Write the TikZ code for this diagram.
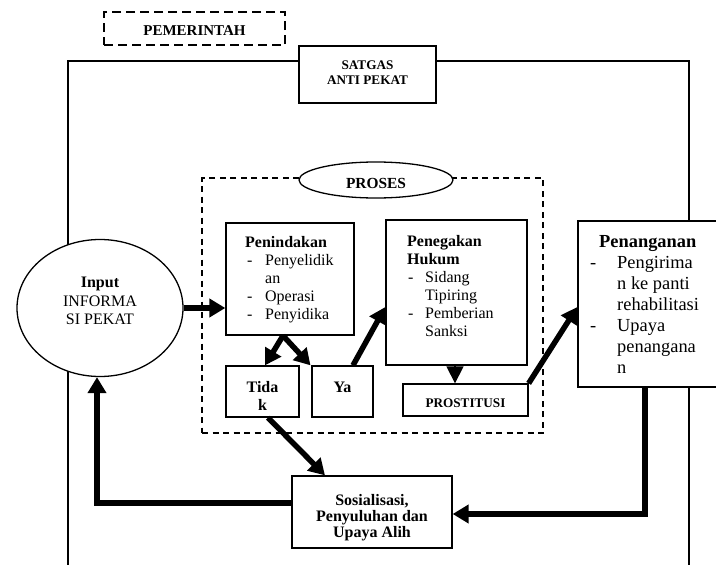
\documentclass[tikz,border=0pt]{standalone}
\usepackage{fontspec}
\setmainfont{Liberation Serif}
\usetikzlibrary{shapes.geometric,arrows.meta,calc,backgrounds}
\newcommand{\dsh}[2]{\makebox[#1][l]{\hspace*{#2}-}}
\begin{document}
\begin{tikzpicture}[x=1pt,y=-1pt,
  box/.style={draw,line width=1.3pt,fill=white,inner sep=0pt,align=center},
  dbox/.style={draw,line width=1.8pt,dash pattern=on 9pt off 5pt,fill=white,inner sep=0pt},
  pframe/.style={draw,line width=1.4pt,dash pattern=on 6pt off 4.5pt,fill=white,inner sep=0pt},
  ell/.style={draw,ellipse,line width=1.3pt,fill=white,inner sep=0pt},
  frame/.style={line width=1.3pt},
  big/.style={line width=5.5pt,-{Triangle[length=16pt,width=18pt]}},
  small/.style={line width=1.3pt,-{Triangle[length=17pt,width=17pt]}},
  txt/.style={inner sep=0pt,font=\fontsize{16}{18}\selectfont,align=left},
  btxt/.style={inner sep=0pt,font=\bfseries\fontsize{16}{18}\selectfont,align=center},
  stxt/.style={inner sep=0pt,font=\bfseries\fontsize{13.2}{15}\selectfont,align=center}
]
\useasboundingbox (0,0) rectangle (716,565);

% outer frame corners
\coordinate (ftl) at (68,61);
\coordinate (ftr) at (689,61);
\coordinate (fbl) at (68,575);
\coordinate (fbr) at (689,575);

% boxes
\node[dbox,minimum width=181pt,minimum height=33pt] (pem) at (194.5,28.5) {};
\node[stxt,font=\bfseries\fontsize{15}{17}\selectfont] (pemt) at (194.5,31) {PEMERINTAH};

\node[box,minimum width=137pt,minimum height=57pt] (satgas) at (367.5,74.5) {};
\node[stxt] (satgast) at (367.5,72.5) {SATGAS\\ANTI PEKAT};

\node[pframe,minimum width=341pt,minimum height=255pt] (pframe) at (372.5,305.5) {};
\node[ell,minimum width=154pt,minimum height=36pt] (proses) at (376,180) {};
\node[btxt,font=\bfseries\fontsize{15.4}{17}\selectfont] (prosest) at (376,183) {PROSES};

\node[ell,minimum width=166pt,minimum height=137pt] (input) at (100,308) {};
\node[inner sep=0pt,font=\fontsize{16}{18.5}\selectfont,align=center] (inputt) at (100,301) {\textbf{Input}\\INFORMA\\SI PEKAT};

\node[box,minimum width=128pt,minimum height=112pt] (pen) at (290,279) {};
\node[txt,anchor=north west] (pent) at (245,236) {\textbf{Penindakan}\\
\dsh{20pt}{2pt}Penyelidik\\ \hspace*{20pt}an\\ \dsh{20pt}{2pt}Operasi\\ \dsh{20pt}{2pt}Penyidika};

\node[box,minimum width=141pt,minimum height=145pt] (hukum) at (456.5,292.5) {};
\node[txt,anchor=north west] (hukumt) at (407,235) {\textbf{Penegakan}\\ \textbf{Hukum}\\
\dsh{18pt}{1pt}Sidang\\ \hspace*{18pt}Tipiring\\ \dsh{18pt}{1pt}Pemberian\\ \hspace*{18pt}Sanksi};

\node[box,minimum width=73pt,minimum height=51pt] (tidak) at (262.5,391.5) {};
\node[btxt] (tidakt) at (262.5,396) {Tida\\k};

\node[box,minimum width=61pt,minimum height=51pt] (ya) at (342.5,391.5) {};
\node[btxt] (yat) at (342.5,387) {Ya};

\node[box,minimum width=125pt,minimum height=32pt] (prost) at (465.5,400) {};
\node[stxt] (prostt) at (465.5,403) {PROSTITUSI};

\node[box,minimum width=142pt,minimum height=166pt] (penang) at (649,304) {};
\node[inner sep=0pt,font=\fontsize{18.4}{21}\selectfont,align=left,anchor=north west] (penangt) at (590,235) {\hspace*{9pt}\textbf{Penanganan}\\
\dsh{27pt}{0pt}Pengirima\\ \hspace*{27pt}n ke panti\\ \hspace*{27pt}rehabilitasi\\ \dsh{27pt}{0pt}Upaya\\ \hspace*{27pt}penangana\\ \hspace*{27pt}n};

\node[box,minimum width=160pt,minimum height=72pt] (sos) at (372,512) {};
\node[btxt,font=\bfseries\fontsize{16}{16}\selectfont] (sost) at (372,518) {Sosialisasi,\\Penyuluhan dan\\Upaya Alih};

% outer frame behind everything
\begin{scope}[on background layer]
\draw[frame] (satgas.west |- ftl) -- (ftl) -- (fbl);
\draw[frame] (satgas.east |- ftr) -- (ftr) -- (fbr);
\end{scope}

% connectors
\draw[big] (input.east) -- (input.east -| pen.west);
\coordinate (pfork) at ($(pen.south)+(-7,0)$);
\draw[big] (pfork) -- ($(tidak.north)+(2.5,0)$);
\draw[big] (pfork) -- ($(ya.north)+(-32,0)$);
\draw[big] ($(ya.north)+(10.5,0)$) -- ($(hukum.west)+(0,14.5)$);
\coordinate (hp) at ($(hukum.south)+(-1.5,0)$);
\draw[small] (hp) -- (hp |- prost.north);
\draw[big] (prost.north east) -- ($(penang.west)+(0,3)$);
\draw[big] ($(tidak.south)+(5.5,0)$) -- ($(sos.north)+(-47,0)$);
\draw[big] ($(penang.south)+(-4,0)$) |- ($(sos.east)+(0,2)$);
\draw[big] ($(sos.west)+(0,-9)$) -| ($(input.south)+(-3,0)$);
\end{tikzpicture}
\end{document}
